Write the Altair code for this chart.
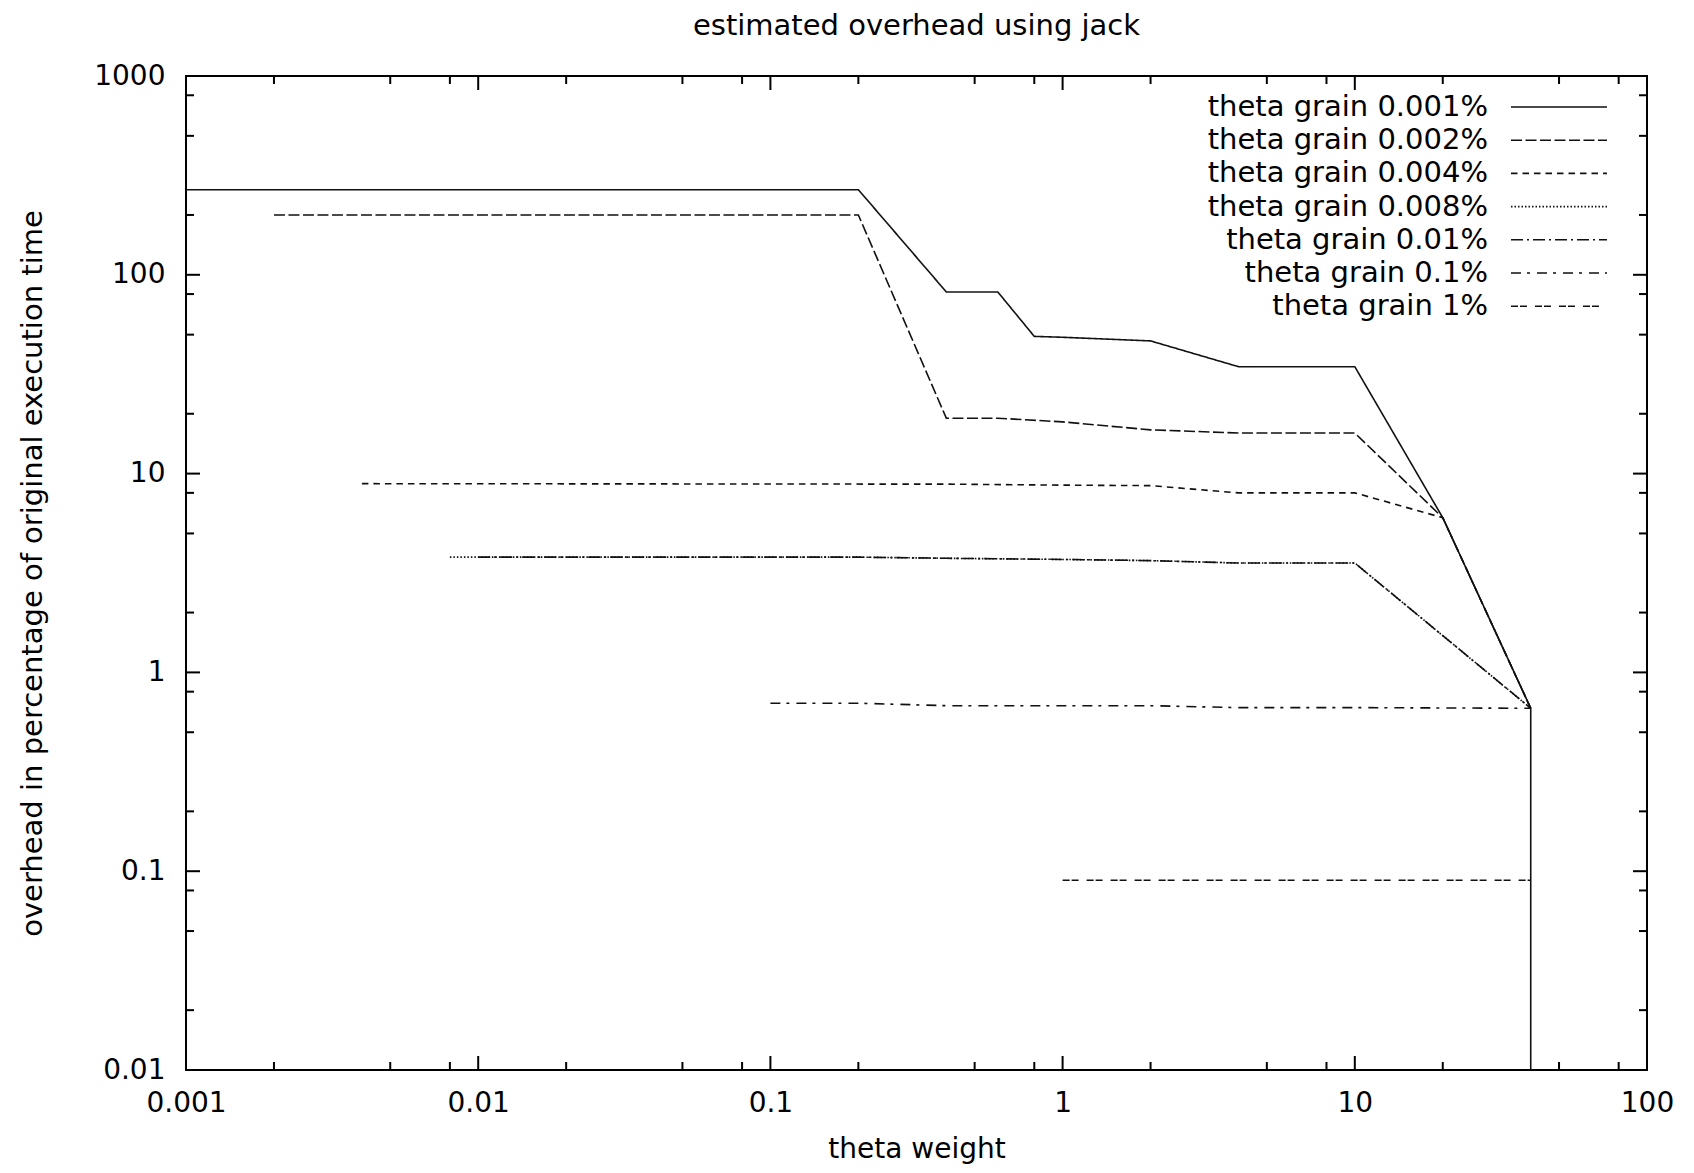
import altair as alt
import pandas as pd

# ---------------- data ----------------
series_names = ["theta grain 0.001%", "theta grain 0.002%", "theta grain 0.004%",
                "theta grain 0.008%", "theta grain 0.01%", "theta grain 0.1%", "theta grain 1%"]

x_g1 = [0.001, 0.2, 0.4, 0.6, 0.8, 1, 2, 4, 10, 20, 40, 40]
y_g1 = [268, 268, 82, 82, 49, 48.5, 46.5, 34.5, 34.5, 6.0, 0.66, 0.0001]

x_g2 = [0.002, 0.2, 0.4, 0.6, 1, 2, 4, 10, 20, 40]
y_g2 = [200, 200, 19, 19, 18.2, 16.6, 16, 16, 6.0, 0.66]

x_g3 = [0.004, 0.4, 1, 2, 4, 10, 20, 40]
y_g3 = [8.9, 8.85, 8.75, 8.7, 8.0, 8.0, 6.0, 0.66]

x_g4 = [0.008, 0.2, 0.4, 1, 2, 4, 10, 40]
y_g4 = [3.8, 3.8, 3.75, 3.7, 3.65, 3.55, 3.55, 0.66]

x_g5 = [0.01, 0.2, 0.4, 1, 2, 4, 10, 40]
y_g5 = [3.8, 3.8, 3.75, 3.7, 3.65, 3.55, 3.55, 0.66]

x_g6 = [0.1, 0.2, 0.4, 1, 2, 4, 10, 40]
y_g6 = [0.70, 0.70, 0.68, 0.68, 0.68, 0.665, 0.665, 0.66]

x_g7 = [1, 2, 4, 10, 20, 40]
y_g7 = [0.09, 0.09, 0.09, 0.09, 0.09, 0.09]

x_major = [0.01, 0.1, 1, 10]
x_minor = [m * d for d in [0.001, 0.01, 0.1, 1, 10] for m in (2, 5, 8)]
y_major = [0.1, 1, 10, 100]
y_minor = [m * d for d in [0.01, 0.1, 1, 10, 100] for m in (2, 5, 8)]
x_labels = [0.001, 0.01, 0.1, 1, 10, 100]
y_labels = [0.01, 0.1, 1, 10, 100, 1000]

dash_styles = [[1, 0], [11, 3.5], [6.5, 5], [1.5, 2], [12, 4, 2, 4], [10, 6, 3, 7], [7, 2, 7, 8]]

# ---------------- build tables ----------------
xs = [x_g1, x_g2, x_g3, x_g4, x_g5, x_g6, x_g7]
ys = [y_g1, y_g2, y_g3, y_g4, y_g5, y_g6, y_g7]
rows = []
for name, xv, yv in zip(series_names, xs, ys):
    for i, (a, b) in enumerate(zip(xv, yv)):
        rows.append({"series": name, "x": a, "y": b, "order": i})
df = pd.DataFrame(rows)

legend_df = pd.DataFrame({"series": series_names, "row": list(range(len(series_names)))})

W, H = 1461, 994
FONT = "DejaVu Sans"
FS = 28
FS_BIG = 29

xscale = alt.Scale(type="log", domain=[0.001, 100])
yscale = alt.Scale(type="log", domain=[0.01, 1000])
dash_scale = alt.Scale(domain=series_names, range=dash_styles)

x_axis = alt.Axis(values=x_labels, format="~g", ticks=False, tickSize=0, domain=False,
                  grid=False, labelFlush=False, labelOverlap=False, labelBaseline="middle",
                  labelPadding=33, labelFont=FONT, labelFontSize=FS, labelColor="black",
                  title="theta weight", titleFont=FONT, titleFontSize=FS,
                  titleFontWeight="normal", titleColor="black", titleX=W / 2, titleY=87,
                  titleBaseline="alphabetic", titleAlign="center")
y_axis = alt.Axis(values=y_labels, format="~g", ticks=False, tickSize=0, domain=False,
                  grid=False, labelFlush=False, labelOverlap=False, labelBaseline="middle",
                  labelPadding=21, labelFont=FONT, labelFontSize=FS, labelColor="black",
                  title="overhead in percentage of original execution time",
                  titleFont=FONT, titleFontSize=FS_BIG, titleFontWeight="normal",
                  titleColor="black", titleX=-154, titleY=H / 2, titleAngle=270,
                  titleBaseline="middle", titleAlign="center")

lines = alt.Chart(df).mark_line(color="#111111", strokeWidth=1.6, clip=True).encode(
    x=alt.X("x:Q", scale=xscale, axis=x_axis),
    y=alt.Y("y:Q", scale=yscale, axis=y_axis),
    detail="series:N",
    order="order:Q",
    strokeDash=alt.StrokeDash("series:N", scale=dash_scale, legend=None),
)


def xticks(vals, length):
    d = pd.DataFrame({"x": vals})
    base = alt.Chart(d).mark_rule(color="black", strokeWidth=2)
    xe = alt.X("x:Q", scale=xscale, axis=x_axis)
    bottom = base.encode(x=xe, y=alt.value(H), y2=alt.value(H - length))
    top = base.encode(x=xe, y=alt.value(0), y2=alt.value(length))
    return [bottom, top]


def yticks(vals, length):
    d = pd.DataFrame({"y": vals})
    base = alt.Chart(d).mark_rule(color="black", strokeWidth=2)
    ye = alt.Y("y:Q", scale=yscale, axis=y_axis)
    left = base.encode(y=ye, x=alt.value(0), x2=alt.value(length))
    right = base.encode(y=ye, x=alt.value(W), x2=alt.value(W - length))
    return [left, right]


tick_layers = xticks(x_major, 14) + xticks(x_minor, 8) + yticks(y_major, 14) + yticks(y_minor, 8)

leg_base = alt.Chart(legend_df).transform_calculate(ly="31 + datum.row * 33.2")
leg_text = leg_base.mark_text(align="right", baseline="middle", font=FONT, fontSize=FS_BIG,
                              color="black").encode(
    x=alt.value(1302),
    y=alt.Y("ly:Q", scale=None),
    text="series:N",
)
leg_line = leg_base.mark_rule(color="#111111", strokeWidth=1.6).encode(
    x=alt.value(1325), x2=alt.value(1421),
    y=alt.Y("ly:Q", scale=None),
    strokeDash=alt.StrokeDash("series:N", scale=dash_scale, legend=None),
)

chart = alt.layer(lines, *tick_layers, leg_text, leg_line).properties(
    width=W, height=H,
    title=alt.TitleParams("estimated overhead using jack", font=FONT, fontSize=FS_BIG,
                          fontWeight="normal", color="black", anchor="middle", frame="group",
                          offset=21),
    autosize=alt.AutoSizeParams(type="none"),
    padding={"left": 178, "top": 68, "right": 39, "bottom": 95},
    background="white",
).configure_view(stroke="black", strokeWidth=2)

chart.save("out.html", embed_options={"renderer": "svg", "actions": False})
